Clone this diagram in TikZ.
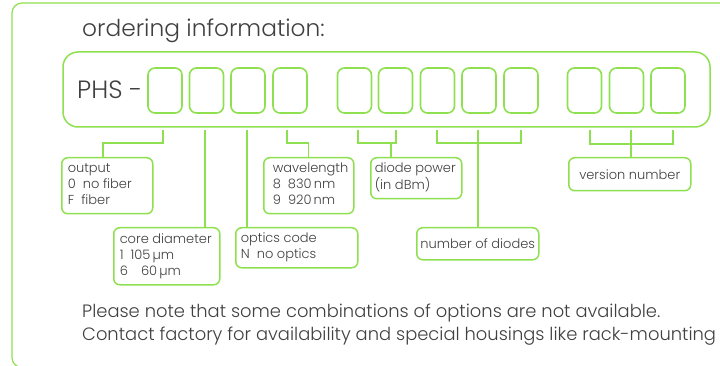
\documentclass[tikz,border=0pt]{standalone}
\usepackage{fontspec}
\IfFontExistsTF{Poppins Light}{\setmainfont{Poppins Light}}{\setmainfont{Poppins}}
\definecolor{lime}{RGB}{143,224,80}
\definecolor{ink}{RGB}{64,64,64}
% left-aligned block of lines inside a label box of the given width
\newcommand{\boxlines}[3]{\makebox[#2][l]{\hspace{#1}\begin{tabular}{@{}l@{}}#3\end{tabular}}}
\tikzset{
  every node/.style={text=ink},
  frameline/.style={draw=lime, line width=1.2pt},
  slot/.style={draw=lime, line width=1.6pt, rounded corners=7pt,
    minimum width=34pt, minimum height=45pt, inner sep=0pt},
  info/.style={draw=lime, line width=1.5pt, rounded corners=6pt,
    anchor=north west, inner sep=0pt, font=\fontsize{13}{16}\selectfont},
  link/.style={draw=lime, line width=1.4pt},
  notetext/.style={anchor=base west, inner sep=0pt, font=\fontsize{17.9}{22}\selectfont},
}
\begin{document}
\begin{tikzpicture}[x=1pt,y=-1pt]
\useasboundingbox (0,0) rectangle (720,366);
% outer frame
\draw[frameline, rounded corners=10pt] (22,367.5) -- (12,367.5) -- (12,3) -- (740,3);
\node[anchor=base west, inner sep=0pt, font=\fontsize{23.3}{27}\selectfont] (title) at (82,37) {ordering information:};
% code strip
\draw[draw=lime, line width=1.5pt, rounded corners=15pt] (63,52) rectangle (710,127);
\node[anchor=base west, inner sep=0pt, font=\fontsize{25}{29}\selectfont] (phs) at (77,99) {PHS -};
\foreach \i/\x in {1/165,2/206.5,3/248,4/290,5/354.5,6/395.5,7/437.5,8/479,9/521,10/584.5,11/626.5,12/668}
  \node[slot] (s\i) at (\x,90.5) {};
% label boxes
\node[info, minimum width=91pt, minimum height=56pt] (out) at (61,157)
  {\boxlines{6pt}{91pt}{output\\0\ \ no fiber\\F\ \ fiber}};
\node[info, minimum width=106pt, minimum height=57pt] (core) at (113,227)
  {\boxlines{6pt}{106pt}{core diameter\\1\ \ 105\,µm\\6\ \ \phantom{1}\,60\,µm}};
\node[info, minimum width=122pt, minimum height=40pt] (opt) at (235,227)
  {\boxlines{5pt}{122pt}{optics code\\N\ \ no optics}};
\node[info, minimum width=90pt, minimum height=56pt] (wave) at (263,157)
  {\boxlines{9pt}{90pt}{wavelength\\8\ \ 830\,nm\\9\ \ 920\,nm}};
\node[info, minimum width=91pt, minimum height=41pt] (pow) at (370,157)
  {\boxlines{4pt}{91pt}{diode power\\(in dBm)}};
\node[info, minimum width=122pt, minimum height=32pt] (num) at (416,227)
  {number of diodes};
\node[info, minimum width=122pt, minimum height=33pt] (ver) at (568,157)
  {version number};
% tick points under the strip
\foreach \n/\x in {a/163,b/205,c/247,d/287,e/358,f/396,g/437,h/478,i/521,j/590,k/631,l/673}
  \coordinate (t\n) at (\x,130);
\coordinate (pj) at (391,143);
% connectors
\draw[link] (ta) -- ++(0,13) -| (103,157) coordinate (oa);
\draw[link] (tb) -- (tb |- core.north);
\draw[link] (tc) -- (tc |- opt.north);
\draw[link] (td) -- ++(0,13) -| (wave.north);
\draw[link] (te) |- (tf |- pj) -- (tf);
\draw[link] (pj) -- (pj |- pow.north);
\draw[link] (tg) |- (ti |- pj) -- (ti);
\draw[link] (th) -- (th |- num.north);
\draw[link] (tj) -- ++(0,14) -| (tl);
\draw[link] (tk) -- (tk |- ver.north);
% note
\node[notetext] (note1) at (82,317) {Please note that some combinations of options are not available.};
\node[notetext] (note2) at (82,340) {Contact factory for availability and special housings like rack-mounting};
\end{tikzpicture}
\end{document}
